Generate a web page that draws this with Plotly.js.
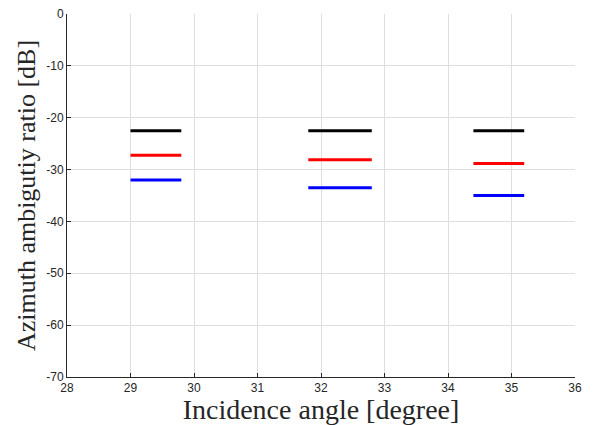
<!DOCTYPE html>
<html>
<head>
<meta charset="utf-8">
<script src="https://cdn.plot.ly/plotly-3.0.1.min.js"></script>
<style>html,body{margin:0;padding:0;background:#fff;}#chart{width:593px;height:425px;}</style>
</head>
<body>
<div id="chart"></div>
<script>
// Segment extents (incidence angle, degree)
const segStart = [29.0, 31.8, 34.4];
const segEnd   = [29.8, 32.8, 35.2];
// Azimuth ambiguity ratio values (dB)
const blackVals = [-22.5, -22.5, -22.5];
const redVals   = [-27.25, -28.1, -28.85];
const blueVals  = [-32.0, -33.5, -35.0];
const xTicks = [28, 29, 30, 31, 32, 33, 34, 35, 36];
const yTicks = [-70, -60, -50, -40, -30, -20, -10, 0];

function segTrace(vals, color) {
  const x = [], y = [];
  vals.forEach((v, i) => {
    x.push(segStart[i], segEnd[i], null);
    y.push(v, v, null);
  });
  return {x, y, type: 'scatter', mode: 'lines', line: {color, width: 3}, hoverinfo: 'skip', showlegend: false};
}

const traces = [
  segTrace(blackVals, '#000000'),
  segTrace(redVals, '#ff0000'),
  segTrace(blueVals, '#0000ff')
];

const tickFont = {family: '"Liberation Sans", Arial, sans-serif', size: 12, color: '#262626'};

const layout = {
  width: 593, height: 425,
  margin: {l: 67, r: 18, t: 14, b: 48},
  paper_bgcolor: '#ffffff', plot_bgcolor: '#ffffff',
  showlegend: false,
  xaxis: {
    range: [28, 36], tickvals: xTicks, ticktext: xTicks.map(String),
    showgrid: true, gridcolor: '#dedede', gridwidth: 1,
    showline: true, linecolor: '#262626', linewidth: 1,
    ticks: 'inside', ticklen: 4, tickcolor: '#262626',
    zeroline: false, tickfont: tickFont, automargin: false,
    title: {text: 'Incidence angle [degree]', font: {family: '"Liberation Serif", "Times New Roman", serif', size: 28, color: '#262626'}, standoff: 7}
  },
  yaxis: {
    range: [-70, 0], tickvals: yTicks, ticktext: yTicks.map(String),
    showgrid: true, gridcolor: '#dedede', gridwidth: 1,
    showline: true, linecolor: '#262626', linewidth: 1,
    ticks: 'inside', ticklen: 4, tickcolor: '#262626',
    zeroline: false, tickfont: tickFont, automargin: false,
    title: {text: 'Azimuth ambigutiy ratio [dB]', font: {family: '"Liberation Serif", "Times New Roman", serif', size: 26, color: '#262626'}, standoff: 3}
  }
};

Plotly.newPlot('chart', traces, layout, {staticPlot: true, displayModeBar: false});
</script>
</body>
</html>
